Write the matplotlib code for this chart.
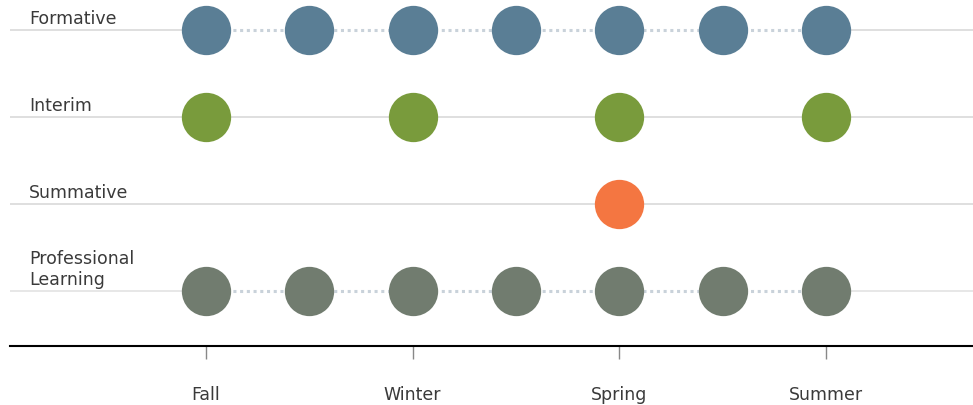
import matplotlib.pyplot as plt

# rows and the time points (in seasons, 0 = Fall) where each assessment happens
rows = ['Formative', 'Interim', 'Summative', 'Professional\nLearning']
formative = [0, 0.5, 1, 1.5, 2, 2.5, 3]
interim = [0, 1, 2, 3]
summative = [2]
prof_learning = [0, 0.5, 1, 1.5, 2, 2.5, 3]
seasons = ['Fall', 'Winter', 'Spring', 'Summer']
season_pos = [0, 1, 2, 3]

series = [formative, interim, summative, prof_learning]
colors = ['#5a7e95', '#799b3c', '#f47641', '#717c6f']
dotted = [True, False, False, True]
line_colors = ['#d9d9d9', '#d9d9d9', '#d9d9d9', '#e3e3e3']

W, H = 973, 406
fig = plt.figure(figsize=(W / 100, H / 100), dpi=100)
ax = fig.add_axes([10 / W, (H - 347) / H, 963 / W, 347 / H])

ax.set_xlim((10 - 206) / 206.67, (973 - 206) / 206.67)
ax.set_ylim((347 - 31) / 87, -31 / 87)

for i, (name, xs) in enumerate(zip(rows, series)):
    ax.axhline(i, color=line_colors[i], lw=1.2, zorder=1)
    if dotted[i]:
        ax.plot([xs[0], xs[-1]], [i, i], color='white', lw=3, zorder=2)
        ax.plot([xs[0], xs[-1]], [i, i], color='#c9d2da', lw=2.2,
                linestyle=(0, (1, 1.2)), zorder=3)
    ax.plot(xs, [i] * len(xs), 'o', ms=35.5, color=colors[i], mec='none', zorder=4)
    ax.text((29 - 206) / 206.67, i - 0.075, name, fontsize=12.5, color='#3a3a3a',
            ha='left', va='baseline', linespacing=1.25, family='DejaVu Sans')

for s in ['top', 'left', 'right']:
    ax.spines[s].set_visible(False)
ax.spines['bottom'].set_linewidth(1.5)
ax.spines['bottom'].set_color('black')

ax.set_yticks([])
ax.set_xticks(season_pos)
ax.set_xticklabels(seasons, fontsize=12.5, color='#3a3a3a', family='DejaVu Sans')
ax.tick_params(axis='x', length=9.5, width=1, color='#888888', pad=18.5)

fig.savefig('out.png', dpi=100)
